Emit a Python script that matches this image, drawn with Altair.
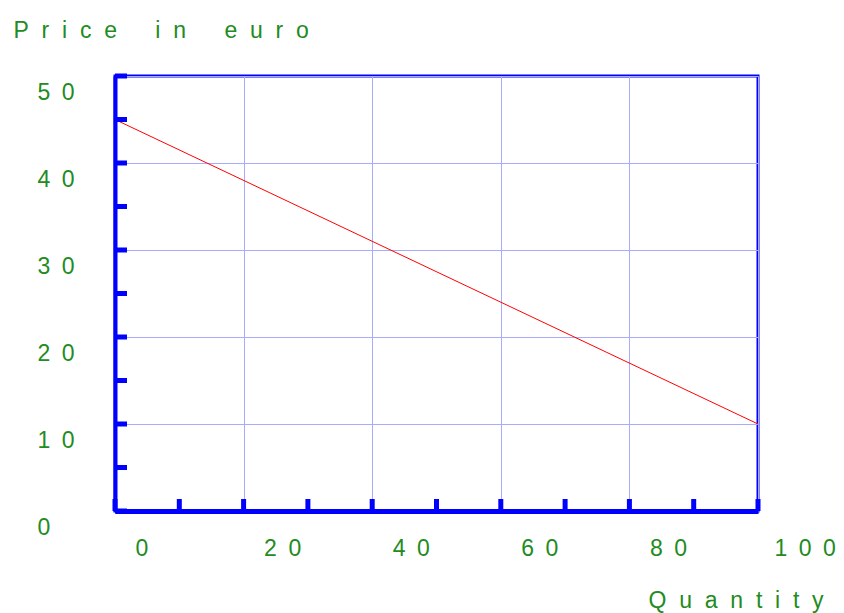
import altair as alt
import pandas as pd

# Data
quantity = [0, 100]
price = [45, 10]

x_grid_values = [0, 20, 40, 60, 80, 100]
y_grid_values = [0, 10, 20, 30, 40, 50]
x_tick_values = [0, 10, 20, 30, 40, 50, 60, 70, 80, 90, 100]
y_tick_values = [0, 5, 10, 15, 20, 25, 30, 35, 40, 45, 50]

y_title_text = "Price in euro"
x_title_text = "Quantity"

GREEN = "#228b22"
BLUE = "#0000ff"
GRID = "#aaaaff"
FONT = "Arial, Liberation Sans, sans-serif"
NB = "\u00a0"
LETTER_GAP = NB * 2
WORD_GAP = NB * 6


def spaced(text):
    return WORD_GAP.join(LETTER_GAP.join(word) for word in text.split(" "))


line_df = pd.DataFrame({"quantity": quantity, "price": price})
xt_df = pd.DataFrame({"q": x_tick_values, "base": [0] * len(x_tick_values)})
yt_df = pd.DataFrame({"p": y_tick_values, "base": [0] * len(y_tick_values)})

x_scale = alt.Scale(domain=[0, 100], nice=False, zero=False)
y_scale = alt.Scale(domain=[0, 50], nice=False, zero=False)

common = dict(
    titleColor=GREEN,
    titleFont=FONT,
    titleFontSize=23,
    titleFontWeight="normal",
    labelExpr="join(split(datum.label, ''), '\u2002')",
    labelAlign="left",
    labelBaseline="alphabetic",
    labelColor=GREEN,
    labelFont=FONT,
    labelFontSize=23,
    labelFlush=False,
    labelOverlap=False,
    ticks=False,
    tickSize=0,
    domainColor=BLUE,
    grid=True,
    gridColor=GRID,
    gridWidth=1,
    gridOpacity=1,
)

x_axis = alt.Axis(
    values=x_grid_values,
    title=spaced(x_title_text),
    titleAlign="left",
    titleBaseline="alphabetic",
    titleX=533,
    titleY=96,
    labelOffset={"condition": {"test": "datum.value >= 100", "value": 16}, "value": 20},
    labelPadding=44,
    domainWidth=5,
    **common,
)

y_axis = alt.Axis(
    values=y_grid_values,
    title=spaced(y_title_text),
    titleAngle=0,
    titleAlign="left",
    titleBaseline="alphabetic",
    titleX=-102,
    titleY=-39,
    labelOffset=23,
    labelPadding=78,
    domainWidth=4,
    **common,
)

line = alt.Chart(line_df).mark_line(color="#ff0000", strokeWidth=1).encode(
    x=alt.X("quantity:Q", scale=x_scale, axis=x_axis),
    y=alt.Y("price:Q", scale=y_scale, axis=y_axis),
)

x_ticks = alt.Chart(xt_df).mark_tick(
    orient="vertical", color=BLUE, thickness=5, size=12, yOffset=-6, opacity=1
).encode(
    x=alt.X("q:Q", scale=x_scale, axis=x_axis),
    y=alt.Y("base:Q", scale=y_scale, axis=y_axis),
)

y_ticks = alt.Chart(yt_df).mark_tick(
    orient="horizontal", color=BLUE, thickness=5, size=12, xOffset=6, opacity=1
).encode(
    x=alt.X("base:Q", scale=x_scale, axis=x_axis),
    y=alt.Y("p:Q", scale=y_scale, axis=y_axis),
)

chart = (
    alt.layer(line, x_ticks, y_ticks)
    .properties(
        width=643,
        height=435,
        autosize=alt.AutoSizeParams(type="none"),
        padding={"left": 107, "top": 68, "right": 78, "bottom": 102},
        background="white",
    )
    .configure_view(stroke=BLUE, strokeWidth=3)
)

chart.save("out.html", embed_options={"renderer": "svg", "actions": False})
